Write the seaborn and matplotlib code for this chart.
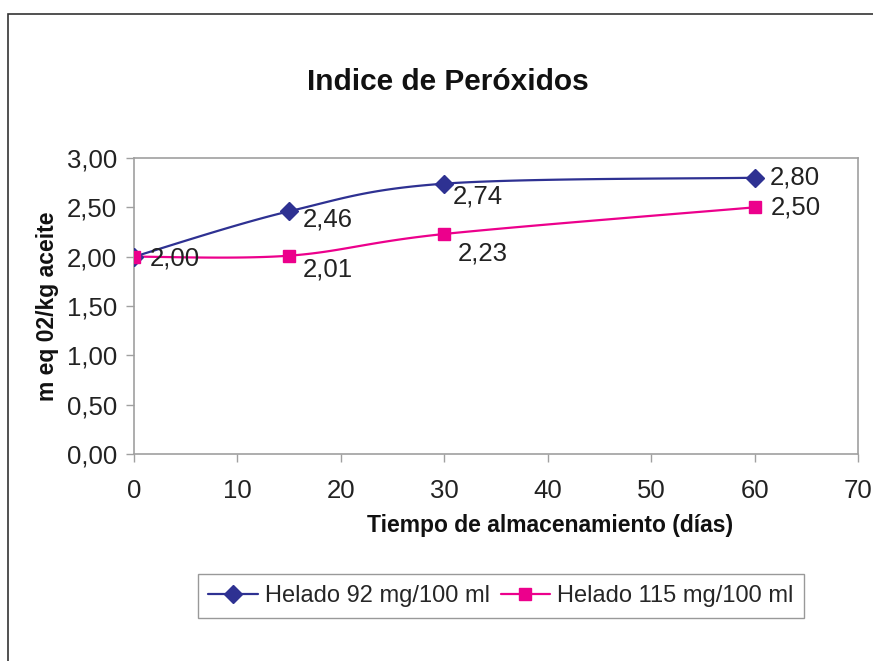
import numpy as np
import pandas as pd
import matplotlib
matplotlib.use("Agg")
import matplotlib.pyplot as plt
from matplotlib.lines import Line2D
from matplotlib.patches import Rectangle
import seaborn as sns

# data
dias = [0, 15, 30, 60]
helado_92 = [2.00, 2.46, 2.74, 2.80]
helado_115 = [2.00, 2.01, 2.23, 2.50]
series_names = ["Helado 92 mg/100 ml", "Helado 115 mg/100 ml"]
y_ticks = [0, 0.5, 1.0, 1.5, 2.0, 2.5, 3.0]
x_ticks = [0, 10, 20, 30, 40, 50, 60, 70]

BLUE = "#2E3192"
PINK = "#EC008C"
GRAY = "#A0A0A0"


def smooth(xs, ys, n=40):
    # Excel-style smoothed line (cubic Bezier through the points)
    pts = np.column_stack([xs, ys]).astype(float)
    padded = np.vstack([pts[0], pts, pts[-1]])
    out = []
    t = np.linspace(0, 1, n)[:, None]
    for i in range(len(pts) - 1):
        p0 = padded[i + 1]
        p3 = padded[i + 2]
        c1 = p0 + (padded[i + 2] - padded[i]) / 6
        c2 = p3 - (padded[i + 3] - padded[i + 1]) / 6
        seg = ((1 - t) ** 3) * p0 + 3 * ((1 - t) ** 2) * t * c1 + 3 * (1 - t) * t ** 2 * c2 + t ** 3 * p3
        out.append(seg if i == 0 else seg[1:])
    out = np.vstack(out)
    return pd.DataFrame({"x": out[:, 0], "y": out[:, 1]})


sns.set_theme(style="white")
plt.rcParams["font.family"] = ["Liberation Sans", "DejaVu Sans"]

fig = plt.figure(figsize=(8.73, 6.61), dpi=100)
ax = fig.add_axes([134 / 873, 1 - 454 / 661, (858 - 134) / 873, (454 - 158) / 661])

# outer chart frame
fig.patches.append(Rectangle((8 / 873, -0.1), 1.2, 1 - 14 / 661 + 0.1, transform=fig.transFigure,
                             fill=False, edgecolor="#333333", linewidth=1.2))

for ys, color, marker, ms in [(helado_92, BLUE, "D", 9), (helado_115, PINK, "s", 8)]:
    sm = smooth(dias, ys)
    sns.lineplot(data=sm, x="x", y="y", sort=False, estimator=None, color=color, linewidth=1.6, ax=ax)
    ax.plot(dias, ys, linestyle="none", marker=marker, markersize=ms, color=color, zorder=3)

fmt = lambda v: f"{v:.2f}".replace(".", ",")

# data labels (offsets in points)
offs_92 = [(11.5, -1), (9.5, -6), (6, -9.5), (11, 0)]
offs_115 = [None, (10, -10), (10, -14), (11.5, 0)]
for ys, offs in [(helado_92, offs_92), (helado_115, offs_115)]:
    for xv, yv, off in zip(dias, ys, offs):
        if off is None:
            continue
        ax.annotate(fmt(yv), (xv, yv), xytext=off, textcoords="offset points",
                    ha="left", va="center", fontsize=18.5, color="#222222")

ax.set_xlim(0, 70)
ax.set_ylim(0, 3)
ax.set_xticks(x_ticks)
ax.set_yticks(y_ticks)
ax.set_yticklabels([fmt(v) for v in y_ticks])
ax.tick_params(axis="both", labelsize=18.5, colors=GRAY, labelcolor="#222222",
               length=6, width=1, direction="out", bottom=True, left=True, pad=6)
ax.tick_params(axis="x", pad=12)
for s in ax.spines.values():
    s.set_color(GRAY)
    s.set_linewidth(1.2)

ax.set_xlabel("Tiempo de almacenamiento (días)", fontsize=16.5, fontweight="bold", color="#111111", labelpad=8)
ax.xaxis.label.set_x((550 - 134) / (858 - 134))
ax.set_ylabel("m eq 02/kg aceite", fontsize=16.5, fontweight="bold", color="#111111", labelpad=6)
fig.text(448 / 873, 1 - 82 / 661, "Indice de Peróxidos", ha="center", va="center",
         fontsize=21.5, fontweight="bold", color="#111111")

handles = [Line2D([], [], color=BLUE, marker="D", markersize=9, linewidth=1.6),
           Line2D([], [], color=PINK, marker="s", markersize=8, linewidth=1.6)]
fig.legend(handles, series_names, loc="center", bbox_to_anchor=(501 / 873, 1 - 596 / 661),
           ncol=2, fontsize=17, frameon=True, fancybox=False, edgecolor="#808080",
           handlelength=2.1, columnspacing=0.45, handletextpad=0.3, borderpad=0.45)

fig.savefig("out.png", dpi=100, facecolor="white")
